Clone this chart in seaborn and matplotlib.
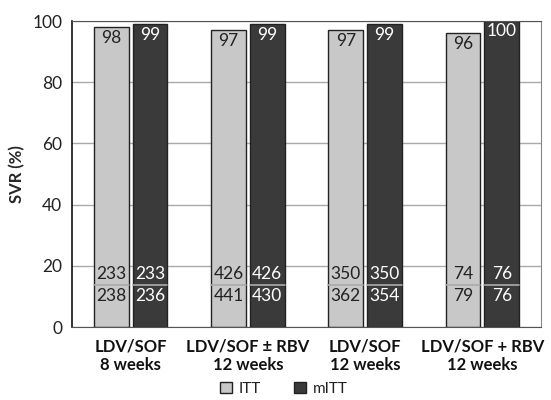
import matplotlib
matplotlib.use("Agg")
import matplotlib.pyplot as plt
import seaborn as sns
import pandas as pd
from matplotlib.patches import Patch

categories = ["LDV/SOF\n8 weeks", "LDV/SOF ± RBV\n12 weeks", "LDV/SOF\n12 weeks", "LDV/SOF + RBV\n12 weeks"]
itt = [98, 97, 97, 96]
mitt = [99, 99, 99, 100]
itt_num = [233, 426, 350, 74]
itt_den = [238, 441, 362, 79]
mitt_num = [233, 426, 350, 76]
mitt_den = [236, 430, 354, 76]
series = ["ITT", "mITT"]
colors = {"ITT": "#c8c8c8", "mITT": "#3a3a3a"}

df = pd.DataFrame({
    "cat": categories * 2,
    "series": ["ITT"] * 4 + ["mITT"] * 4,
    "val": itt + mitt,
})

sns.set_style("white")
plt.rcParams['font.family'] = ['Lato', 'DejaVu Sans']

fig = plt.figure(figsize=(5.51, 4.0), dpi=100)
ax = fig.add_axes([72/551, 1 - 327/400, (541-72)/551, (327-21)/400])

sns.barplot(data=df, x="cat", y="val", hue="series", palette=colors,
            width=0.66, gap=0.1, edgecolor="#222222", linewidth=1.0,
            legend=False, ax=ax, saturation=1)

ax.set_ylim(0, 100)
ax.set_xlim(-0.5, 3.5)
ax.set_yticks([0, 20, 40, 60, 80, 100])
ax.yaxis.grid(True, color="#aaaaaa", linewidth=1)
ax.set_axisbelow(True)
ax.tick_params(axis="y", length=5, width=1, color="#222222", labelsize=12.5, pad=2, labelcolor="#222222")
ax.tick_params(axis="x", length=0, labelsize=12, pad=8, labelcolor="#111111")
for lbl in ax.get_xticklabels():
    lbl.set_fontweight("bold")
    lbl.set_linespacing(1.25)
ax.set_xlabel("")
ax.set_ylabel("SVR (%)", fontsize=12, fontweight="bold", labelpad=5)

ax.spines["left"].set_color("#111111")
ax.spines["left"].set_linewidth(1.2)
ax.spines["bottom"].set_color("#555555")
ax.spines["top"].set_color("#555555")
ax.spines["right"].set_color("#888888")

for container, vals, nums, dens, tc in [
    (ax.containers[0], itt, itt_num, itt_den, "#222222"),
    (ax.containers[1], mitt, mitt_num, mitt_den, "white"),
]:
    for bar, v, n, d in zip(container, vals, nums, dens):
        cx = bar.get_x() + bar.get_width() / 2
        ax.text(cx, v - 0.8, str(v), ha="center", va="top", fontsize=12.5, color=tc)
        ax.plot([bar.get_x(), bar.get_x() + bar.get_width()], [13.8, 13.8],
                color="#aaaaaa", linewidth=1.2)
        ax.text(cx, 17.3, str(n), ha="center", va="center", fontsize=12.5, color=tc)
        ax.text(cx, 10.2, str(d), ha="center", va="center", fontsize=12.5, color=tc)

handles = [Patch(facecolor=colors[s], edgecolor="#222222", label=s) for s in series]
fig.legend(handles=handles, loc="center", bbox_to_anchor=(0.515, 0.028), ncol=2,
           frameon=False, fontsize=11, handlelength=0.8, handleheight=0.8,
           columnspacing=2.2, handletextpad=0.4, labelcolor="#222222",
           borderpad=0.1)

fig.savefig("out.png", dpi=100)
